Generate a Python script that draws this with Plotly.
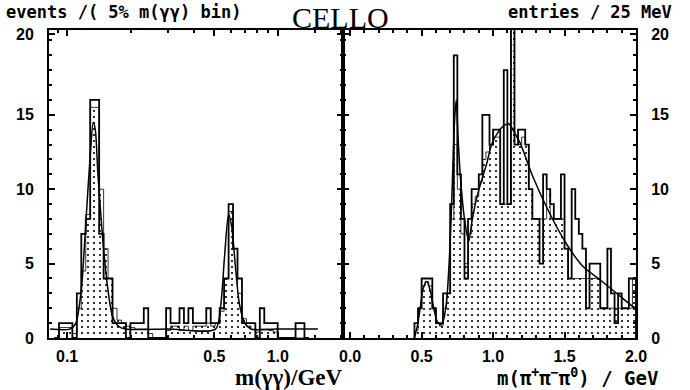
import math
import plotly.graph_objects as go

# ---------------- data : left panel  m(gamma gamma), 5 % bins ----------------
L_M0 = 0.0871      # lower edge of first bin (GeV)
L_RATIO = 1.05     # 5 % bins
left_counts = [0, 1, 1, 1, 0, 3, 7, 8, 16, 16, 7, 4, 4, 1, 1, 1, 0, 1, 1, 1,
               2, 0, 0, 0, 0, 2, 1, 1, 2, 1, 2, 1, 1, 1, 2, 1, 1, 2, 4, 9,
               6, 4, 1, 1, 1, 0, 2, 1, 1, 1, 0, 0, 0, 0, 1, 1, 0]
left_dotted = [0, 0.7, 0.7, 0.7, 0.3, 2, 4.5, 8.3, 15.5, 15.5, 10, 6, 4, 2, 1.2, 1, 0.8, 0.7, 0.6, 0.6,
               0.6, 0.3, 0, 0, 0, 0.5, 0.8, 0.8, 0.5, 0.8, 0.5, 0.8, 0.8, 0.8, 1, 0.8, 1, 1.8, 4, 8.5,
               6, 3, 1.3, 0.8, 0.6, 0.4, 0.6, 0.6, 0.5, 0.4, 0, 0, 0, 0, 0, 0, 0]
left_fit_m = [0.083, 0.103, 0.110, 0.115, 0.118, 0.123, 0.129, 0.133, 0.136, 0.140, 0.145,
              0.150, 0.157, 0.164, 0.175, 0.189, 0.30, 0.506, 0.534, 0.559, 0.584, 0.604,
              0.632, 0.659, 0.697, 0.744, 1.0, 1.55]
left_fit_v = [0.6, 0.6, 1.0, 2.5, 4.0, 8.0, 12.5, 14.5, 14.0, 11.0, 8.0,
              5.5, 3.0, 1.5, 0.8, 0.6, 0.6, 0.6, 2.0, 5.5, 8.3, 7.5,
              4.5, 2.2, 1.0, 0.6, 0.6, 0.6]
left_ticks = [0.1, 0.5, 1.0]
left_ticktext = ["0.1", "0.5", "1.0"]

# ---------------- data : right panel  m(pi+ pi- pi0), 25 MeV bins ----------------
R_M0 = 0.45
R_W = 0.025
right_counts = [1, 2, 4, 4, 4, 2, 1, 1, 3, 3, 9, 19, 11, 8, 4, 8, 10, 10, 11, 15,
                15, 13, 14, 14, 9, 18, 9, 21, 13, 14, 14, 13, 10, 8, 8, 5, 11, 10, 9, 8,
                8, 11, 6, 4, 10, 8, 7, 6, 2, 5, 5, 5, 2, 2, 6, 3, 1, 3, 2, 2,
                4, 4]
right_dotted = [0.5, 2, 3.5, 3.8, 3.5, 2, 1, 0.8, 2, 3, 8, 13, 10, 7, 5, 7, 9, 9.5, 10.5, 12,
                12.5, 13, 13.5, 13.5, 9, 9, 9, 21, 13, 13, 13.5, 13, 10, 8, 8, 8, 8, 10, 8, 8,
                8, 8, 6, 4, 4, 4, 4, 4, 4, 4, 4, 4, 2, 2, 2, 2, 2, 2, 2, 2,
                2, 4]
right_fit_m = [0.45, 0.47, 0.49, 0.51, 0.535, 0.56, 0.585, 0.61, 0.635, 0.655, 0.675, 0.695,
               0.71, 0.73, 0.742, 0.755, 0.77, 0.80, 0.83, 0.85, 0.885, 0.92, 0.955, 0.99,
               1.04, 1.08, 1.11, 1.15, 1.19, 1.28, 1.40, 1.515, 1.63, 1.75, 1.865, 1.98, 2.0]
right_fit_v = [0.0, 0.8, 2.0, 3.3, 3.8, 3.2, 2.0, 1.1, 0.9, 1.3, 2.5, 5.5,
               9.0, 14.5, 16.0, 13.5, 11.0, 8.0, 6.5, 7.7, 9.4, 10.6, 11.7, 13.0,
               13.9, 14.3, 14.4, 13.8, 13.1, 10.8, 8.3, 6.3, 4.8, 3.9, 3.0, 2.1, 2.0]
right_ticks = [0.0, 0.5, 1.0, 1.5, 2.0]
right_ticktext = ["0.0", "0.5", "1.0", "1.5", "2.0"]
y_ticktext = ["0", "5", "10", "15", "20"]


def step_xy(edges, counts):
    n = len(counts)
    x = [edges[0]] + list(edges[:n]) + [edges[n]]
    y = [0] + list(counts) + [0]
    return x, y


left_edges = [L_M0 * L_RATIO ** i for i in range(len(left_counts) + 1)]
right_edges = [R_M0 + R_W * i for i in range(len(right_counts) + 1)]

W, H = 690, 390
X_L0, X_MID, X_R1 = 49, 343, 636
Y_TOP, Y_BOT = 30, 338
YMAX = 20.7
# the printed scale puts its "20" mark just under the top edge of the frame
y_tickvals = [0, 5, 10, 15, 20.4]

dot_pattern = dict(shape=".", size=6, solidity=0.1, fgcolor="black", bgcolor="white")

fig = go.Figure()
for (edges, dotted, counts, fm, fv, xa, ya) in [
    (left_edges, left_dotted, left_counts, left_fit_m, left_fit_v, "x", "y"),
    (right_edges, right_dotted, right_counts, right_fit_m, right_fit_v, "x2", "y2"),
]:
    dx, dy = step_xy(edges, dotted)
    fig.add_trace(go.Scatter(x=dx, y=dy, mode="lines", line=dict(shape="hv", color="black", width=0.8),
                             fill="tozeroy", fillpattern=dot_pattern, xaxis=xa, yaxis=ya,
                             showlegend=False, hoverinfo="skip"))
    ox, oy = step_xy(edges, counts)
    fig.add_trace(go.Scatter(x=ox, y=oy, mode="lines", line=dict(shape="hv", color="black", width=1.8),
                             xaxis=xa, yaxis=ya, showlegend=False, hoverinfo="skip"))
    fig.add_trace(go.Scatter(x=fm, y=fv, mode="lines", line=dict(shape="spline", smoothing=0.8,
                             color="black", width=1.5),
                             xaxis=xa, yaxis=ya, showlegend=False, hoverinfo="skip"))

tickfont = dict(family="Liberation Sans", size=16, color="black", weight="bold")
axis_common = dict(showline=True, linecolor="black", linewidth=2, mirror="allticks",
                   ticks="inside", ticklen=6, tickwidth=1.5, tickcolor="black",
                   showgrid=False, zeroline=False, tickfont=tickfont, automargin=False)

fig.update_layout(
    width=W, height=H,
    margin=dict(l=0, r=0, t=0, b=0),
    paper_bgcolor="white", plot_bgcolor="white",
    template="none",
    xaxis=dict(type="log", domain=[X_L0 / W, X_MID / W],
               range=[math.log10(0.082), math.log10(2.04)], anchor="y",
               tickvals=left_ticks, ticktext=left_ticktext,
               minor=dict(tickvals=[0.09, 0.2, 0.3, 0.4, 0.6, 0.7, 0.8, 0.9, 1.5, 2.0],
                          ticklen=3, tickcolor="black", ticks="inside"),
               ticklabelstandoff=3, **axis_common),
    yaxis=dict(domain=[(H - Y_BOT) / H, (H - Y_TOP) / H], range=[0, YMAX], anchor="x",
               tickvals=y_tickvals, ticktext=y_ticktext,
               minor=dict(dtick=1, ticklen=3, tickcolor="black", ticks="inside"),
               ticklabelstandoff=10, **axis_common),
    xaxis2=dict(domain=[X_MID / W, X_R1 / W], range=[-0.05, 2.0], anchor="y2",
                tickvals=right_ticks, ticktext=right_ticktext,
                minor=dict(dtick=0.1, tick0=0, ticklen=3, tickcolor="black", ticks="inside"),
                ticklabelstandoff=3, **axis_common),
    yaxis2=dict(domain=[(H - Y_BOT) / H, (H - Y_TOP) / H], range=[0, YMAX], anchor="x2",
                side="right", tickvals=y_tickvals, ticktext=y_ticktext,
                minor=dict(dtick=1, ticklen=3, tickcolor="black", ticks="inside"),
                ticklabelstandoff=10, **axis_common),
)

mono = "DejaVu Sans Mono"
fig.add_annotation(x=4 / W, y=(H - 12) / H, xref="paper", yref="paper", xanchor="left", yanchor="middle",
                   text="events /( 5% m(γγ) bin)", showarrow=False,
                   font=dict(family=mono, size=17, color="black", weight="bold"))
fig.add_annotation(x=340 / W, y=(H - 18) / H, xref="paper", yref="paper", xanchor="center", yanchor="middle",
                   text="CELLO", showarrow=False,
                   font=dict(family="Liberation Serif", size=30, color="black"))
fig.add_annotation(x=674 / W, y=(H - 12) / H, xref="paper", yref="paper", xanchor="right", yanchor="middle",
                   text="entries / 25 MeV", showarrow=False,
                   font=dict(family=mono, size=17, color="black", weight="bold"))
fig.add_annotation(x=344 / W, y=(H - 377) / H, xref="paper", yref="paper", xanchor="right", yanchor="middle",
                   text="m(γγ)/GeV", showarrow=False,
                   font=dict(family="Liberation Serif", size=23, color="black", weight="bold"))
fig.add_annotation(x=660 / W, y=(H - 377) / H, xref="paper", yref="paper", xanchor="right", yanchor="middle",
                   text="m(π<sup>+</sup>π<sup>−</sup>π<sup>0</sup>) / GeV", showarrow=False,
                   font=dict(family=mono, size=19, color="black", weight="bold"))

fig.write_html("out.html")
